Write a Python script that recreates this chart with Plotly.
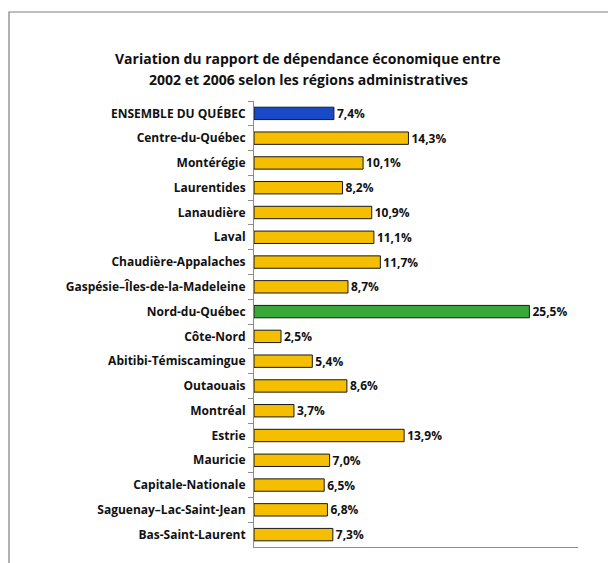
import plotly.graph_objects as go

regions = ["ENSEMBLE DU QUÉBEC", "Centre-du-Québec", "Montérégie", "Laurentides", "Lanaudière",
           "Laval", "Chaudière-Appalaches", "Gaspésie–Îles-de-la-Madeleine", "Nord-du-Québec",
           "Côte-Nord", "Abitibi-Témiscamingue", "Outaouais", "Montréal", "Estrie", "Mauricie",
           "Capitale-Nationale", "Saguenay–Lac-Saint-Jean", "Bas-Saint-Laurent"]
values = [7.4, 14.3, 10.1, 8.2, 10.9, 11.1, 11.7, 8.7, 25.5, 2.5, 5.4, 8.6, 3.7, 13.9, 7.0, 6.5, 6.8, 7.3]
title_lines = ["Variation du rapport de dépendance économique entre",
               "2002 et 2006 selon les régions administratives"]

def color_for(name):
    if name == "ENSEMBLE DU QUÉBEC":
        return "#1A49C8"
    if name == "Nord-du-Québec":
        return "#38A838"
    return "#F5BF00"

colors = [color_for(r) for r in regions]
labels = [f"<b>{v:.1f}%</b>".replace(".", ",") for v in values]

W, H = 616, 563
OFF = 8  # page body margin
L, R, T, B = 254 - OFF, 38 + OFF, 101 - OFF, 16 + OFF

fig = go.Figure(go.Bar(
    x=values, y=regions, orientation="h",
    marker=dict(color=colors, line=dict(color="#1a1a1a", width=1)),
    width=0.5,
    text=labels, textposition="outside", cliponaxis=False, constraintext="none",
    textfont=dict(family="Open Sans", size=12, color="#111111"),
))

fig.update_layout(
    width=W, height=H,
    margin=dict(l=L, r=R, t=T, b=B),
    paper_bgcolor="white", plot_bgcolor="white",
    showlegend=False,
    font=dict(family="Open Sans", size=11, color="#111111"),
    xaxis=dict(range=[0, 30], showticklabels=False, ticks="", showgrid=False,
               zeroline=False, showline=True, linecolor="#8c8c8c", linewidth=1),
    yaxis=dict(categoryorder="array", categoryarray=regions, autorange="reversed",
               ticks="outside", tickson="boundaries", ticklen=5, tickcolor="#8c8c8c",
               showline=True, linecolor="#8c8c8c", linewidth=1, showgrid=False,
               tickprefix="<b>", ticksuffix="</b>",
               tickfont=dict(family="Open Sans", size=12, color="#111111"),
               ticklabelstandoff=5),
    bargap=0.5,
)

for i, line in enumerate(title_lines):
    fig.add_annotation(text=f"<b>{line}</b>", xref="paper", yref="paper",
                       x=(308 - OFF - L) / (W - L - R),
                       y=1 + (T - (58 + 22 * i - OFF)) / (H - T - B),
                       xanchor="center", yanchor="middle", showarrow=False,
                       font=dict(family="Open Sans", size=14, color="#111111"))

# outer frame
fig.add_shape(type="rect", xref="paper", yref="paper",
              x0=(9 - OFF - L) / (W - L - R), x1=(W + 20 - L) / (W - L - R),
              y0=-(B + 20) / (H - T - B), y1=1 + (T - (12 - OFF)) / (H - T - B),
              line=dict(color="#7f7f7f", width=1.2), fillcolor="rgba(0,0,0,0)", layer="below")

fig.write_html("out.html")
